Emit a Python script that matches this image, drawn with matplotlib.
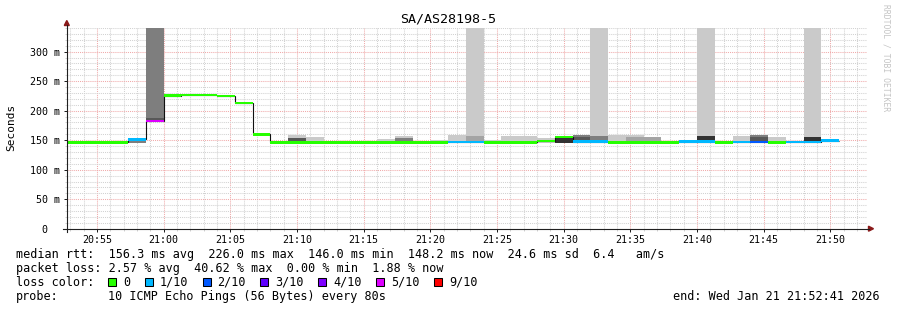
import matplotlib

matplotlib.use("Agg")
import matplotlib.pyplot as plt
from matplotlib.lines import Line2D
from matplotlib.patches import Polygon, Rectangle
from matplotlib.ticker import FuncFormatter, MultipleLocator

W, H = 897, 310
MONO = "DejaVu Sans Mono"
plt.rcParams["font.family"] = MONO

TITLE = "SA/AS28198-5"

# rrd steps of 80 s, start times in seconds relative to 21:00:00
step_start = [-480, -400, -320, -240, -160, -80, 0, 80, 160, 240, 320,
              400, 480, 560, 640, 720, 800, 880, 960, 1040, 1120, 1200,
              1280, 1360, 1440, 1520, 1600, 1680, 1760, 1840, 1920, 2000,
              2080, 2160, 2240, 2320, 2400, 2480, 2560, 2640, 2720, 2800,
              2880, 2960]
# median rtt per step (ms)
median_ms = [146.5, 146.5, 146.5, 146.5, 151.5, 182.5, 225.3, 226.6, 226.6,
             225.0, 213.0, 160.0, 146.5, 146.5, 146.5, 146.5, 146.5, 146.5,
             146.5, 146.5, 146.5, 146.5, 147.0, 147.0, 146.5, 146.5, 146.5,
             148.5, 155.4, 147.5, 147.5, 146.5, 146.5, 146.5, 146.5, 147.5,
             147.5, 146.5, 147.0, 147.0, 146.5, 147.0, 147.0, 149.0]
# lost pings (of 10) per step
lost = [0, 0, 0, 0, 1, 5, 0, 0, 0, 0, 0, 0, 0, 0, 0, 0, 0, 0, 0, 0, 0, 0,
        1, 1, 0, 0, 0, 0, 0, 1, 1, 0, 0, 0, 0, 1, 1, 0, 1, 2, 0, 1, 1, 1]

# smoke bands: step start, low, high (ms), grey level
INF = float("inf")
smoke_start = [-160, -80, -80, 560, 560, 640, 960, 1040, 1040, 1200, 1280,
               1360, 1360, 1440, 1520, 1600, 1680, 1760, 1840, 1840, 1920,
               1920, 2000, 2080, 2080, 2160, 2320, 2400, 2400, 2560, 2640,
               2640, 2720, 2880, 2880, 2960]
smoke_lo = [146, 183, 183, 148, 148, 148, 148, 148, 148, 148, 148,
            148, 148, 148, 148, 148, 146, 146, 146, 146, 146,
            146, 148, 148, 148, 148, 148, 148, 148, 148, 148,
            148, 148, 148, 148, 148]
smoke_hi = [150, INF, 187, 159, 154, 155.5, 151.5, 157.5, 153.5, 150, 159,
            INF, 157, 150, 157, 157, 153.5, 154, 159, 155, INF,
            157, 159, 159, 155, 155, 150.5, INF, 157.6, 157.6, 159,
            155, 155.4, INF, 155, 151]
smoke_grey = [126, 126, 88, 202, 88, 202, 202, 202, 126, 202, 202,
              202, 164, 202, 202, 202, 202, 50, 126, 88, 202,
              126, 202, 202, 164, 164, 202, 202, 50, 202, 126,
              88, 202, 202, 50, 202]

loss_levels = [0, 1, 2, 3, 4, 5, 9]
loss_labels = ["0", "1/10", "2/10", "3/10", "4/10", "5/10", "9/10"]
loss_colors = ["#26ff00", "#00b8ff", "#0059ff", "#5e00ff", "#7e00ff",
               "#dd00ff", "#ff0000"]

rtt_line = "median rtt:  156.3 ms avg  226.0 ms max  146.0 ms min  148.2 ms now  24.6 ms sd  6.4   am/s"
loss_line = "packet loss: 2.57 % avg  40.62 % max  0.00 % min  1.88 % now"
probe_text = "10 ICMP Echo Pings (56 Bytes) every 80s"
end_text = "end: Wed Jan 21 21:52:41 2026"

X_START, X_END = -435, 3165
Y_MAX = 340


def fx(px):
    return px / W


def fy(py):
    return 1 - py / H


def hhmm(s, _pos=None):
    t = 21 * 3600 + s
    return f"{int(t // 3600) % 24:02d}:{int(t % 3600 // 60):02d}"


def ms_label(v, _pos=None):
    return "0  " if v == 0 else f"{v:.0f} m"


fig = plt.figure(figsize=(W / 100, H / 100), dpi=100)
fig.patch.set_facecolor("white")
ax = fig.add_axes([fx(67), fy(228.7), 800 / W, 200.6 / H])
ax.set_xlim(X_START, X_END)
ax.set_ylim(0, Y_MAX)
for sp in ax.spines.values():
    sp.set_visible(False)

# smoke
for st, lo, hi, g in zip(smoke_start, smoke_lo, smoke_hi, smoke_grey):
    hi = min(hi, Y_MAX)
    ax.bar(st, hi - lo, bottom=lo, width=80, align="edge",
           color=(g / 255,) * 3, linewidth=0, zorder=2)

# black median line + loss coloured band
edges = step_start + [step_start[-1] + 80]
ax.stairs(median_ms, edges, baseline=None, color="#101010", lw=0.8, zorder=3)
half = 2.2
cmap = dict(zip(loss_levels, loss_colors))
ax.bar(step_start, [2 * half] * len(median_ms),
       bottom=[m - half for m in median_ms], width=80, align="edge",
       color=[cmap[n] for n in lost], linewidth=0, zorder=4)

# grid
ax.xaxis.set_major_locator(MultipleLocator(300))
ax.xaxis.set_minor_locator(MultipleLocator(60))
ax.yaxis.set_major_locator(MultipleLocator(50))
ax.yaxis.set_minor_locator(MultipleLocator(10))
ax.xaxis.set_major_formatter(FuncFormatter(hhmm))
ax.yaxis.set_major_formatter(FuncFormatter(ms_label))
ax.grid(which="minor", color="#d2d2d2", linestyle=(0, (1, 1)), lw=0.75, zorder=0)
ax.grid(which="major", color="#f0aaaa", linestyle=(0, (1, 1)), lw=0.75, zorder=0)
ax.set_axisbelow(True)
ax.tick_params(which="major", length=2.2, width=0.72, color="#202020",
               labelsize=7.2, pad=3)
ax.tick_params(which="minor", length=1.5, width=0.72, color="#d2d2d2")
ax.tick_params(axis="x", pad=2)

# axes with arrows
axis_col = "#202020"
arrow_col = "#8b1a1a"
fig.add_artist(Line2D([fx(63), fx(869)], [fy(228.7), fy(228.7)],
                      color=axis_col, lw=0.8))
fig.add_artist(Line2D([fx(66.8), fx(66.8)], [fy(232), fy(25)],
                      color=axis_col, lw=0.8))
fig.add_artist(Polygon([(fx(64.3), fy(25.5)), (fx(69.3), fy(25.5)),
                        (fx(66.8), fy(20.5))], closed=True,
                       color=arrow_col, transform=fig.transFigure))
fig.add_artist(Polygon([(fx(868.5), fy(226.2)), (fx(868.5), fy(231.2)),
                        (fx(873.5), fy(228.7))], closed=True,
                       color=arrow_col, transform=fig.transFigure))

# texts
fig.text(fx(448.5), fy(19), TITLE, ha="center", va="center", fontsize=9.6)
fig.text(fx(11), fy(127), "Seconds", rotation=90, ha="center", va="center",
         fontsize=8)
fig.text(fx(886), fy(4), "RRDTOOL / TOBI OETIKER", rotation=270,
         ha="center", va="top", fontsize=5.8, color="#c4c4c4")

LEG = 8.5
CH = 7.07
fig.text(fx(16), fy(254.3), rtt_line, va="center", fontsize=LEG)
fig.text(fx(16), fy(268.3), loss_line, va="center", fontsize=LEG)
fig.text(fx(16), fy(282.3), "loss color:", va="center", fontsize=LEG)
fig.text(fx(16), fy(296.3), "probe:", va="center", fontsize=LEG)
fig.text(fx(16 + 13 * CH), fy(296.3), probe_text, va="center", fontsize=LEG)
fig.text(fx(880), fy(296.3), end_text, ha="right", va="center", fontsize=LEG)

bx = 108
for lab, col in zip(loss_labels, loss_colors):
    fig.add_artist(Rectangle((fx(bx), fy(286.3)), 8 / W, 8 / H,
                             facecolor=col, edgecolor="black", lw=0.75,
                             transform=fig.transFigure))
    tx = bx + 15
    fig.text(fx(tx), fy(282.3), lab, va="center", fontsize=LEG)
    bx = tx + len(lab) * CH + 14.6

fig.savefig("out.png", dpi=100)
